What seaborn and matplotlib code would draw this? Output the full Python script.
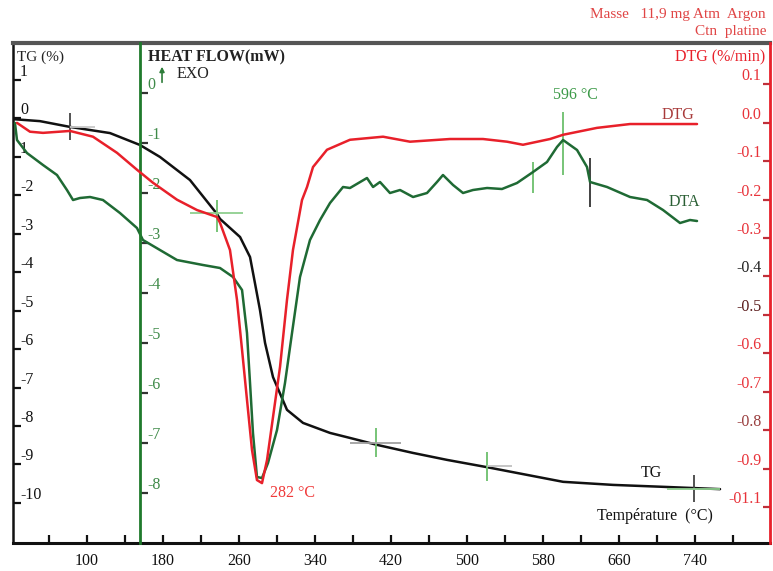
import matplotlib
matplotlib.use("Agg")
import matplotlib.pyplot as plt
import pandas as pd
import seaborn as sns

# TG curve (mass loss, %)
tg_temp = [23.2, 50.5, 82.1, 124.2, 155.8, 176.8, 208.4, 236.8, 240.0, 261.1,
           271.6, 276.8, 282.1, 287.4, 295.8, 310.5, 327.4, 355.8, 376.8,
           405.3, 443.2, 478.9, 521.1, 563.2, 601.1, 653.7, 706.3, 766.3]
tg_value = [-0.03, -0.08, -0.23, -0.39, -0.70, -1.01, -1.61, -2.49, -2.62, -3.09,
            -3.61, -4.29, -4.99, -5.84, -6.73, -7.58, -7.92, -8.18, -8.31,
            -8.49, -8.70, -8.88, -9.07, -9.27, -9.45, -9.53, -9.58, -9.64]

# DTG curve (%/min)
dtg_temp = [26.3, 40.0, 53.7, 82.1, 106.3, 131.6, 152.6, 169.5, 194.7, 215.8,
            236.8, 240.0, 250.5, 257.9, 263.2, 268.4, 273.7, 278.9, 284.2, 289.5,
            295.8, 303.2, 310.5, 316.8, 326.3, 331.6, 337.9, 352.6, 376.8, 411.6,
            440.0, 482.1, 516.8, 542.1, 558.9, 587.4, 601.1, 636.8, 671.6, 742.1]
dtg_value = [0.0, -0.023, -0.026, -0.021, -0.036, -0.078, -0.122, -0.156, -0.200, -0.227,
             -0.245, -0.260, -0.331, -0.461, -0.591, -0.721, -0.852, -0.930, -0.938, -0.878,
             -0.766, -0.635, -0.461, -0.331, -0.201, -0.167, -0.115, -0.070, -0.044, -0.036,
             -0.049, -0.042, -0.042, -0.049, -0.057, -0.042, -0.031, -0.013, -0.003, -0.003]

# DTA curve (heat flow, mW)
dta_temp = [24.2, 26.3, 36.8, 53.7, 68.4, 78.9, 85.3, 92.6, 103.2, 116.8,
            134.7, 152.6, 158.9, 176.8, 194.7, 222.1, 240.0, 253.7, 263.2, 268.4,
            271.6, 274.7, 278.9, 284.2, 290.5, 300.0, 308.4, 315.8, 324.2, 334.7,
            345.3, 355.8, 369.5, 376.8, 394.7, 401.1, 408.4, 418.9, 429.5, 443.2,
            457.9, 468.4, 474.7, 485.3, 495.8, 506.3, 521.1, 536.8, 552.6, 569.5,
            584.2, 594.7, 601.1, 615.8, 626.3, 629.5, 647.4, 671.6, 689.5, 706.3,
            724.2, 734.7, 742.1]
dta_value = [-0.60, -0.94, -1.20, -1.44, -1.64, -1.94, -2.14, -2.10, -2.08, -2.14,
             -2.40, -2.70, -2.94, -3.14, -3.34, -3.44, -3.50, -3.68, -3.94, -4.80,
             -5.80, -6.80, -7.68, -7.70, -7.40, -6.74, -5.80, -4.80, -3.68, -2.94,
             -2.54, -2.20, -1.88, -1.90, -1.70, -1.88, -1.78, -2.00, -1.94, -2.08,
             -2.00, -1.78, -1.64, -1.84, -2.00, -1.94, -1.90, -1.92, -1.80, -1.58,
             -1.38, -1.08, -0.94, -1.14, -1.48, -1.78, -1.88, -2.08, -2.14, -2.34,
             -2.60, -2.54, -2.56]

# axis ticks
x_ticks = [60, 100, 140, 180, 220, 260, 300, 340, 380, 420, 460, 500, 540,
           580, 620, 660, 700, 740, 780]
x_tick_labels = ["", "100", "", "180", "", "260", "", "340", "", "420", "",
                 "500", "", "580", "", "660", "", "740", ""]
tg_ticks = [1, 0, -1, -2, -3, -4, -5, -6, -7, -8, -9, -10]
tg_tick_labels = ["1", "0", "1", "-2", "-3", "-4", "-5", "-6", "-7", "-8", "-9", "-10"]
hf_ticks = [0, -1, -2, -3, -4, -5, -6, -7, -8]
hf_tick_labels = ["0", "-1", "-2", "-3", "-4", "-5", "-6", "-7", "-8"]
dtg_ticks = [0.1, 0.0, -0.1, -0.2, -0.3, -0.4, -0.5, -0.6, -0.7, -0.8, -0.9, -1.0]
dtg_tick_labels = ["0.1", "0.0", "-0.1", "-0.2", "-0.3", "-0.4", "-0.5", "-0.6",
                   "-0.7", "-0.8", "-0.9", "-01.1"]
dtg_label_colors = ["#e8333a"] * 5 + ["#222222", "#5a1a1a"] + ["#e8333a"] * 2 + \
                   ["#9a3f3f"] + ["#e8333a"] * 2

# analysis markers (temperature, TG-axis extent)
vmark_temp = [82, 237, 404, 521, 739, 569.5, 601, 629.5]
vmark_lo = [-0.57, -2.96, -8.81, -9.43, -9.97, -1.95, -1.48, -2.31]
vmark_hi = [0.13, -2.13, -8.05, -8.68, -9.27, -1.14, 0.16, -1.04]
vmark_color = ["#444444", "#6cbf6c", "#6cbf6c", "#6cbf6c", "#444444",
               "#6cbf6c", "#6cbf6c", "#333333"]
hmark_value = [-0.23, -2.47, -8.44, -9.04, -9.64]
hmark_t0 = [82, 208, 377, 521, 711]
hmark_t1 = [108, 264, 430, 547, 766]
hmark_color = ["#c8c8c8", "#8fcf8f", "#a0a0a0", "#c0c0c0", "#8fcf8f"]

GREEN_AXIS = "#1f7a2c"
DTA_GREEN = "#1f6a34"
RED = "#e8202a"

sns.set_theme(style="ticks")
plt.rcParams["font.family"] = ["Liberation Serif", "DejaVu Serif"]

fig = plt.figure(figsize=(7.73, 5.71), dpi=100)
ax = fig.add_axes([0.0168, 0.049, 0.9793, 0.8757])
ax_hf = ax.twinx()
ax_dtg = ax.twinx()

tg_df = pd.DataFrame({"temp": tg_temp, "value": tg_value})
dtg_df = pd.DataFrame({"temp": dtg_temp, "value": dtg_value})
dta_df = pd.DataFrame({"temp": dta_temp, "value": dta_value})

sns.lineplot(data=tg_df, x="temp", y="value", ax=ax, color="#111111",
             linewidth=1.8, sort=False, estimator=None)
sns.lineplot(data=dta_df, x="temp", y="value", ax=ax_hf, color=DTA_GREEN,
             linewidth=1.8, sort=False, estimator=None)
sns.lineplot(data=dtg_df, x="temp", y="value", ax=ax_dtg, color=RED,
             linewidth=1.8, sort=False, estimator=None)

ax.vlines(vmark_temp, vmark_lo, vmark_hi, colors=vmark_color, linewidth=1.3, zorder=5)
ax.hlines(hmark_value, hmark_t0, hmark_t1, colors=hmark_color, linewidth=1.3, zorder=5)

x_min, x_max = 22.1, 818.9
for a in (ax, ax_hf, ax_dtg):
    a.set_xlim(x_min, x_max)
    a.set_xlabel("")
    a.set_ylabel("")
ax.set_ylim(-11.04, 1.95)
ax_hf.set_ylim(-9.0, 1.0)
ax_dtg.set_ylim(-1.094, 0.208)

# main axes: TG (left) and temperature (bottom)
ax.set_xticks(x_ticks)
ax.set_xticklabels(x_tick_labels, fontsize=11.5)
ax.set_yticks(tg_ticks)
ax.set_yticklabels(tg_tick_labels, fontsize=11.5)
ax.tick_params(axis="x", direction="in", length=6, width=1.6, pad=7, colors="#111111")
ax.tick_params(axis="y", direction="in", length=6, width=1.6, pad=-5, colors="#111111")
for lbl in ax.get_yticklabels():
    lbl.set_ha("left")
    lbl.set_va("bottom")
ax.spines["left"].set_color("#111111")
ax.spines["left"].set_linewidth(1.8)
ax.spines["bottom"].set_color("#111111")
ax.spines["bottom"].set_linewidth(2.2)
ax.spines["top"].set_color("#555555")
ax.spines["top"].set_linewidth(3)
ax.spines["right"].set_visible(False)

# heat flow axis (green, inside the plot)
for side in ("left", "top", "bottom"):
    ax_hf.spines[side].set_visible(False)
ax_hf.spines["right"].set_position(("data", 155.8))
ax_hf.spines["right"].set_color(GREEN_AXIS)
ax_hf.spines["right"].set_linewidth(2)
ax_hf.set_yticks(hf_ticks)
ax_hf.set_yticklabels(hf_tick_labels, fontsize=11.5)
ax_hf.tick_params(axis="y", direction="out", length=6, width=1.6, pad=-1,
                  color="#333333", labelcolor="#3e8a48")
for lbl in ax_hf.get_yticklabels():
    lbl.set_va("bottom")

# DTG axis (red, right)
for side in ("left", "top", "bottom"):
    ax_dtg.spines[side].set_visible(False)
ax_dtg.spines["right"].set_color(RED)
ax_dtg.spines["right"].set_linewidth(2)
ax_dtg.set_yticks(dtg_ticks)
ax_dtg.set_yticklabels(dtg_tick_labels, fontsize=11.5)
ax_dtg.tick_params(axis="y", direction="in", length=5, width=1.6, pad=-6, color="#c0303a")
for lbl, col in zip(ax_dtg.get_yticklabels(), dtg_label_colors):
    lbl.set_ha("right")
    lbl.set_va("bottom")
    lbl.set_color(col)

# titles and annotations
fig.text(0.990, 0.974, "Masse   11,9 mg Atm  Argon", ha="right", va="center",
         fontsize=11, color="#e04545")
fig.text(0.992, 0.944, "Ctn  platine", ha="right", va="center", fontsize=11, color="#e04545")
fig.text(0.022, 0.900, "TG (%)", ha="left", va="center", fontsize=11, color="#222222")
fig.text(0.191, 0.900, "HEAT FLOW(mW)", ha="left", va="center", fontsize=11.5,
         color="#222222", fontweight="bold")
fig.text(0.228, 0.870, "EXO", ha="left", va="center", fontsize=11.5, color="#222222")
fig.text(0.990, 0.900, "DTG (%/min)", ha="right", va="center", fontsize=11.5, color=RED)
fig.text(0.744, 0.834, "596 °C", ha="center", va="center", fontsize=11.5, color="#3c9a48")
fig.text(0.877, 0.799, "DTG", ha="center", va="center", fontsize=11.5, color="#a83a3a")
fig.text(0.885, 0.646, "DTA", ha="center", va="center", fontsize=11.5, color="#2a5f34")
fig.text(0.379, 0.137, "282 °C", ha="center", va="center", fontsize=11.5, color="#f03a3a")
fig.text(0.843, 0.172, "TG", ha="center", va="center", fontsize=11.5, color="#111111")
fig.text(0.847, 0.096, "Température  (°C)", ha="center", va="center", fontsize=11.5,
         color="#111111")
fig.add_artist(matplotlib.patches.FancyArrowPatch(
    (0.2096, 0.851), (0.2096, 0.888), transform=fig.transFigure,
    arrowstyle="-|>", mutation_scale=7, color="#2e7d3a", linewidth=1.2))

fig.savefig("out.png", dpi=100)
